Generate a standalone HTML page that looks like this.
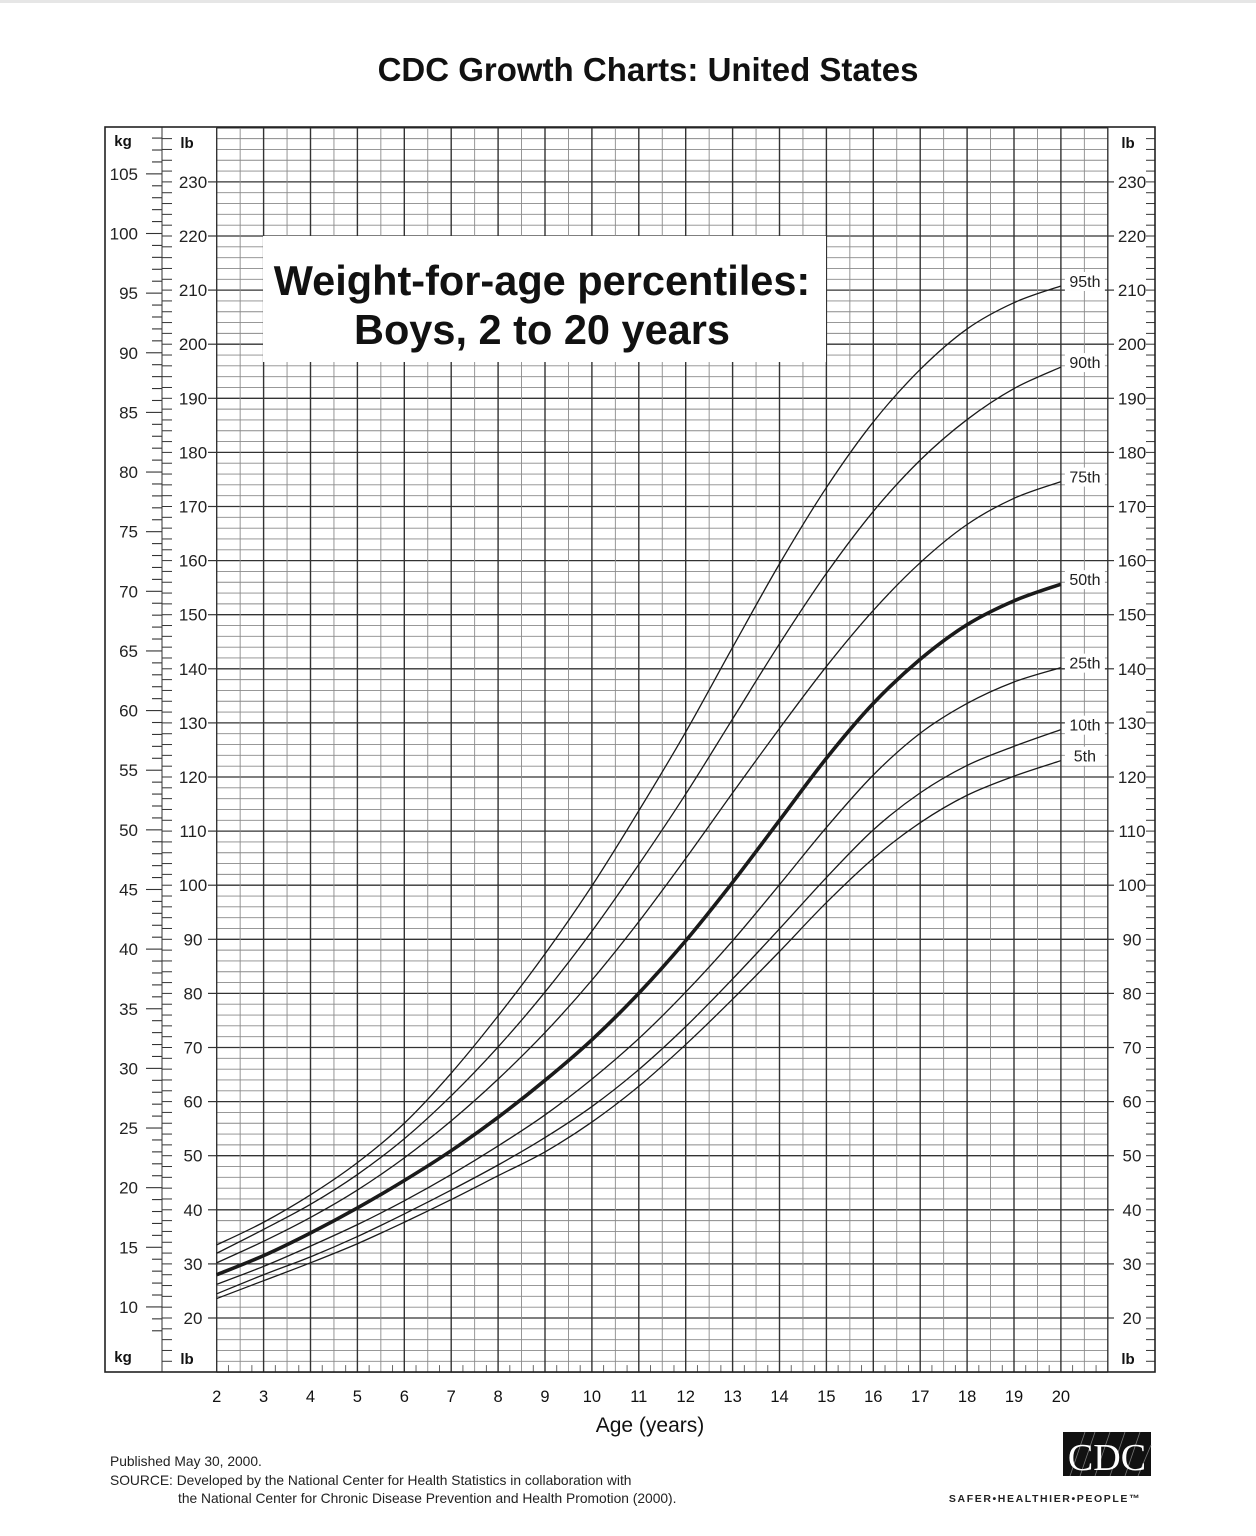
<!DOCTYPE html>
<html><head><meta charset="utf-8">
<style>
html,body{margin:0;padding:0;background:#fff;}
body{width:1256px;height:1536px;position:relative;overflow:hidden;font-family:"Liberation Sans",sans-serif;}
svg{position:absolute;left:0;top:0;}
</style></head>
<body>
<svg id="chart" width="1256" height="1536" viewBox="0 0 1256 1536" xmlns="http://www.w3.org/2000/svg">
<rect x="0" y="0" width="1256" height="3" fill="#e6e6e6"/>
<text x="648" y="81" text-anchor="middle" font-family="Liberation Sans, sans-serif" font-weight="bold" font-size="33" fill="#111">CDC Growth Charts: United States</text>
<g id="grid"></g>
<g id="axes"></g>
<g id="titlebox">
<rect x="263" y="236" width="563" height="126" fill="#fff"/>
<text x="542" y="295" text-anchor="middle" font-family="Liberation Sans, sans-serif" font-weight="bold" font-size="41.5" fill="#111">Weight-for-age percentiles:</text>
<text x="542" y="344" text-anchor="middle" font-family="Liberation Sans, sans-serif" font-weight="bold" font-size="41.5" fill="#111">Boys, 2 to 20 years</text>
</g>
<g id="curves"></g>
<g id="labels"></g>
<rect x="105" y="127" width="1050" height="1245" fill="none" stroke="#222" stroke-width="1.6"/>
<text x="650" y="1432" text-anchor="middle" font-size="21" fill="#111" font-family="Liberation Sans, sans-serif">Age (years)</text>
<g font-family="Liberation Sans, sans-serif" font-size="13.8" fill="#222">
<text x="110" y="1466">Published May 30, 2000.</text>
<text x="110" y="1485">SOURCE: Developed by the National Center for Health Statistics in collaboration with</text>
<text x="178" y="1503">the National Center for Chronic Disease Prevention and Health Promotion (2000).</text>
</g>
<g>
<rect x="1063" y="1432" width="88" height="44" fill="#111"/>
<g stroke="#777" stroke-width="0.8">
<line x1="1070" y1="1476" x2="1085" y2="1432"/><line x1="1080" y1="1476" x2="1095" y2="1432"/><line x1="1095" y1="1476" x2="1110" y2="1432"/><line x1="1110" y1="1476" x2="1125" y2="1432"/><line x1="1125" y1="1476" x2="1140" y2="1432"/><line x1="1138" y1="1476" x2="1151" y2="1445"/>
</g>
<text x="1107" y="1470" text-anchor="middle" font-family="Liberation Serif, serif" font-size="38" fill="#fff">CDC</text>
<text x="1045" y="1502" text-anchor="middle" font-family="Liberation Sans, sans-serif" font-weight="bold" font-size="10.5" letter-spacing="1.6" fill="#222">SAFER•HEALTHIER•PEOPLE™</text>
</g>
</svg>
<script>
const ages = [2,3,4,5,6,7,8,9,10,11,12,13,14,15,16,17,18,19,20];
const percentileNames = ["5th","10th","25th","50th","75th","90th","95th"];
const p5  = [10.7,12.2,13.7,15.3,17.1,19.0,21.0,23.0,25.5,28.5,32.0,35.8,39.8,43.9,47.6,50.6,52.9,54.5,55.8];
const p10 = [11.1,12.7,14.2,15.9,17.8,19.8,21.9,24.2,26.8,29.9,33.5,37.5,41.7,46.0,50.0,53.1,55.4,57.0,58.4];
const p25 = [11.9,13.4,15.1,16.9,18.9,21.1,23.5,26.1,29.1,32.5,36.4,40.7,45.4,50.2,54.6,58.1,60.6,62.4,63.6];
const p50 = [12.7,14.3,16.2,18.3,20.6,23.1,25.9,29.0,32.4,36.3,40.7,45.6,50.8,56.0,60.6,64.3,67.2,69.2,70.6];
const p75 = [13.7,15.5,17.5,19.8,22.5,25.6,29.1,33.0,37.4,42.3,47.6,53.1,58.5,63.7,68.4,72.4,75.6,77.8,79.2];
const p90 = [14.5,16.5,18.6,21.1,24.1,27.7,31.8,36.4,41.5,47.1,53.0,59.3,65.6,71.5,76.7,81.0,84.4,87.0,88.8];
const p95 = [15.2,17.1,19.4,22.1,25.4,29.6,34.4,39.6,45.3,51.6,58.2,65.3,72.3,78.7,84.2,88.6,92.0,94.2,95.6];
const series = [p5,p10,p25,p50,p75,p90,p95];
const kgTicks = [10,15,20,25,30,35,40,45,50,55,60,65,70,75,80,85,90,95,100,105];
const lbTicks = [20,30,40,50,60,70,80,90,100,110,120,130,140,150,160,170,180,190,200,210,220,230];
const ageTicks = [2,3,4,5,6,7,8,9,10,11,12,13,14,15,16,17,18,19,20];

const NS = "http://www.w3.org/2000/svg";
const LBKG = 2.20462;
function xAge(a){ return 216.7 + (a-2)*46.9; }
function yLb(lb){ return 1318 - (lb-20)*5.41; }
function yKg(kg){ return yLb(kg*LBKG); }
function mk(tag, attrs, parent){
  const e = document.createElementNS(NS, tag);
  for (const k in attrs) e.setAttribute(k, attrs[k]);
  parent.appendChild(e); return e;
}
const grid = document.getElementById('grid');
const axes = document.getElementById('axes');
const GX0 = xAge(2), GX1 = xAge(21), GY0 = yLb(240), GY1 = yLb(10);
for (let lb = 10; lb <= 240; lb += 2) {
  const major = lb % 10 === 0;
  const y = yLb(lb);
  const l = mk('line', {x1:GX0, x2:GX1, y1:y, y2:y, stroke: major?'#333':'#8a8a8a', 'stroke-width': major?1.3:0.9}, grid);
  
  
}
for (let a = 2; a <= 21.001; a += 0.5) {
  const major = Math.abs(a - Math.round(a)) < 0.01;
  const x = xAge(a);
  const l = mk('line', {x1:x, x2:x, y1:GY0, y2:GY1, stroke: major?'#333':'#8a8a8a', 'stroke-width': major?1.4:0.9}, grid);
  
  
}
for (let a = 2.25; a < 21; a += 0.5) {
  const x = xAge(a);
  const l = mk('line', {x1:x, x2:x, y1:GY1-7, y2:GY1, stroke:'#555', 'stroke-width':0.9}, grid);
  
  
}
mk('line', {x1:162, x2:162, y1:127, y2:1372, stroke:'#333', 'stroke-width':1}, axes);
for (let kg = 8; kg <= 108; kg++) {
  const y = yKg(kg);
  if (y < 130 || y > 1370) continue;
  const major = kg % 5 === 0;
  const l = mk('line', {x1: major?146:152, x2:162, y1:y, y2:y, stroke:'#333', 'stroke-width':1.1}, axes);
  
  
}
kgTicks.forEach(kg => {
  const t = mk('text', {x:138, y:yKg(kg)+6, 'text-anchor':'end', 'font-size':17, fill:'#222'}, axes);
  t.textContent = kg;
  
  
});
for (let lb = 12; lb <= 238; lb += 2) {
  const y = yLb(lb);
  const l1 = mk('line', {x1:162, x2:172, y1:y, y2:y, stroke:'#333', 'stroke-width':1}, axes);
  
  
  const l2 = mk('line', {x1:1146, x2:1155, y1:y, y2:y, stroke:'#333', 'stroke-width':1}, axes);
  
  
}
lbTicks.forEach(lb => {
  const y = yLb(lb);
  mk('rect', {x:172, y:y-9, width:38, height:18, fill:'#fff'}, axes);
  mk('line', {x1:208, x2:217, y1:y, y2:y, stroke:'#333', 'stroke-width':1.2}, axes);
  const t = mk('text', {x:193, y:y+6, 'text-anchor':'middle', 'font-size':17, fill:'#222'}, axes);
  t.textContent = lb;
  
  
  mk('rect', {x:1113, y:y-9, width:33, height:18, fill:'#fff'}, axes);
  mk('line', {x1:1108, x2:1114, y1:y, y2:y, stroke:'#333', 'stroke-width':1.2}, axes);
  const t2 = mk('text', {x:1132, y:y+6, 'text-anchor':'middle', 'font-size':17, fill:'#222'}, axes);
  t2.textContent = lb;
  
  
});
[[123,146,'kg'],[123,1362,'kg'],[187,148,'lb'],[187,1364,'lb'],[1128,148,'lb'],[1128,1364,'lb']].forEach(([x,y,s]) => {
  mk('rect', {x:x-13, y:y-14, width:26, height:18, fill:'#fff'}, axes);
  const t = mk('text', {x:x, y:y, 'text-anchor':'middle', 'font-size':15, 'font-weight':'bold', fill:'#111'}, axes);
  t.textContent = s;
  
  
});
ageTicks.forEach(a => {
  const t = mk('text', {x:xAge(a), y:1402, 'text-anchor':'middle', 'font-size':16.5, fill:'#111'}, axes);
  t.textContent = a;
  
  
});
function pathFor(vals){
  const pts = ages.map((a,i) => [xAge(a), yKg(vals[i])]);
  let d = `M${pts[0][0].toFixed(2)},${pts[0][1].toFixed(2)}`;
  for (let i = 0; i < pts.length-1; i++) {
    const p0 = pts[i-1] || pts[i], p1 = pts[i], p2 = pts[i+1], p3 = pts[i+2] || p2;
    const c1 = [p1[0]+(p2[0]-p0[0])/6, p1[1]+(p2[1]-p0[1])/6];
    const c2 = [p2[0]-(p3[0]-p1[0])/6, p2[1]-(p3[1]-p1[1])/6];
    d += ` C${c1[0].toFixed(2)},${c1[1].toFixed(2)} ${c2[0].toFixed(2)},${c2[1].toFixed(2)} ${p2[0].toFixed(2)},${p2[1].toFixed(2)}`;
  }
  return d;
}
const curves = document.getElementById('curves');
const labels = document.getElementById('labels');
series.forEach((vals, i) => {
  const bold = percentileNames[i] === '50th';
  const p = mk('path', {d:pathFor(vals), fill:'none', stroke:'#1a1a1a', 'stroke-width': bold?3.6:1.3, 'stroke-linejoin':'round'}, curves);
  
  
  const ey = yKg(vals[vals.length-1]);
  const ex = xAge(20);
  const ly = ey - 4;
  mk('rect', {x:ex+4, y:ly-10, width:40, height:19, fill:'#fff'}, labels);
  const t = mk('text', {x:ex+24, y:ly+5, 'text-anchor':'middle', 'font-size':16, fill:'#222'}, labels);
  t.textContent = percentileNames[i];
  
  
});
</script>
</body></html>
